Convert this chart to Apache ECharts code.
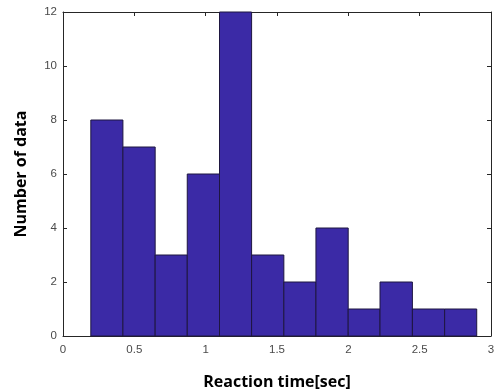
<!DOCTYPE html>
<html>
<head>
<meta charset="utf-8">
<script src="https://cdn.jsdelivr.net/npm/echarts@6/dist/echarts.min.js"></script>
<style>
  html, body { margin: 0; padding: 0; background: #fff; }
  #chart { width: 497px; height: 392px; }
</style>
</head>
<body>
<div id="chart"></div>
<script>
// bin edges (sec) and counts
const binEdges = [0.195, 0.42, 0.646, 0.871, 1.097, 1.322, 1.548, 1.773, 1.999, 2.222, 2.449, 2.675, 2.9];
const counts = [8, 7, 3, 6, 12, 3, 2, 4, 1, 2, 1, 1];
const xTicks = [0, 0.5, 1, 1.5, 2, 2.5, 3];
const yTicks = [0, 2, 4, 6, 8, 10, 12];

const myChart = echarts.init(document.getElementById("chart"));

const data = counts.map((c, i) => [binEdges[i], binEdges[i + 1], c]);

const axisCommon = {
  axisLine: { show: true, onZero: false, lineStyle: { color: "#262626", width: 1 } },
  axisTick: { show: true, inside: true, length: 4, lineStyle: { color: "#262626" } },
  axisLabel: { color: "#4a4a4a", fontSize: 11.5, fontFamily: "Liberation Sans" },
  splitLine: { show: false },
};

const option = {
  animation: false,
  grid: { left: 63, right: 6, top: 12, bottom: 56, containLabel: false, outerBoundsMode: "none" },
  xAxis: [
    {
      type: "value", min: 0, max: 3, interval: 0.5,
      ...axisCommon,
      axisLabel: { ...axisCommon.axisLabel, margin: 8, formatter: (v) => (xTicks.includes(v) ? String(v) : "") },
      name: "Reaction time[sec]",
      nameLocation: "middle",
      nameGap: 38,
      nameTextStyle: { fontSize: 16, fontWeight: "bold", color: "#000", fontFamily: "Open Sans" },
    },
    {
      type: "value", min: 0, max: 3, interval: 0.5, position: "top",
      ...axisCommon, axisLabel: { show: false },
    },
  ],
  yAxis: [
    {
      type: "value", min: 0, max: 12, interval: 2,
      ...axisCommon,
      axisLabel: { ...axisCommon.axisLabel, margin: 6, formatter: (v) => (yTicks.includes(v) ? String(v) : "") },
      name: "Number of data",
      nameLocation: "middle",
      nameGap: 34,
      nameTextStyle: { fontSize: 16, fontWeight: "bold", color: "#000", fontFamily: "Open Sans" },
    },
    {
      type: "value", min: 0, max: 12, interval: 2, position: "right",
      ...axisCommon, axisLabel: { show: false },
    },
  ],
  series: [
    {
      type: "custom",
      data: data,
      encode: { x: [0, 1], y: 2 },
      renderItem: (params, api) => {
        const p0 = api.coord([api.value(0), 0]);
        const p1 = api.coord([api.value(1), api.value(2)]);
        return {
          type: "rect",
          shape: { x: p0[0], y: p1[1], width: p1[0] - p0[0], height: p0[1] - p1[1] },
          style: { fill: "#3b2aa6", stroke: "#1e1640", lineWidth: 1 },
        };
      },
    },
  ],
};

myChart.setOption(option);
</script>
</body>
</html>
